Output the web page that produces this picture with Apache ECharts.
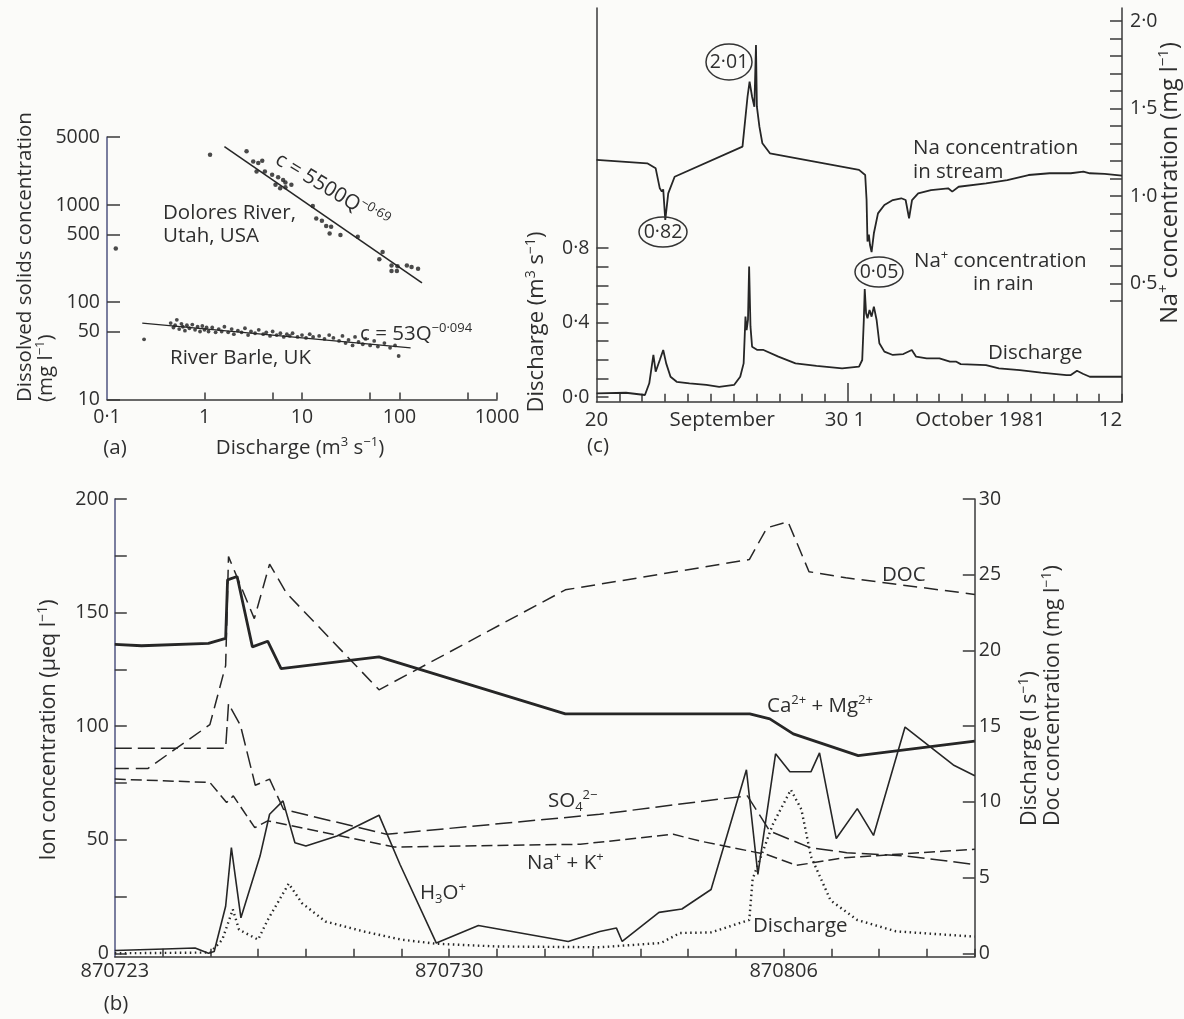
<!DOCTYPE html>
<html><head><meta charset="utf-8">
<script src="https://cdn.jsdelivr.net/npm/echarts@6/dist/echarts.min.js"></script>
<style>html,body{margin:0;padding:0;background:#fbfbf9}#c{width:1184px;height:1019px}</style>
</head><body><div id="c"></div>
<script>
// ===== Panel (a): dissolved solids vs discharge, [Q (m3/s), c (mg/l)]
const doloresPoints = [[1.14,3290],[0.123,356],[2.70,3570],[3.16,2800],[3.56,2700],[3.91,2850],[3.42,2210],[4.16,2210],[4.94,2040],[5.69,1930],[6.40,1810],[6.76,1700],[5.35,1610],[5.97,1490],[6.76,1520],[7.78,1610],[12.9,977],[14.0,728],[16.0,689],[17.7,607],[19.2,509],[19.9,597],[24.8,490],[37.3,470],[67.1,329],[62.1,276],[82.8,239],[82.8,209],[94.0,209],[95.4,234],[119,239],[133,230],[155,221]];
const barlePoints = [[0.24,41.6],[0.45,61],[0.48,55],[0.5,58],[0.52,66],[0.55,53],[0.58,60],[0.6,56],[0.63,51],[0.66,58],[0.7,54],[0.75,59],[0.8,52],[0.85,56],[0.9,50],[0.95,57],[1.0,52],[1.05,55],[1.1,50],[1.2,55],[1.3,49],[1.4,53],[1.5,50],[1.6,56],[1.75,49],[1.9,53],[2.0,47],[2.2,51],[2.4,49],[2.6,54],[2.8,46],[3.0,50],[3.3,48],[3.6,52],[4.0,47],[4.3,49],[4.7,45],[5.0,50],[5.5,46],[6.0,48],[6.5,44],[7.0,47],[7.5,45],[8.0,48],[9.0,44],[10,46],[11,43],[12,47],[13,44],[15,45],[17,42],[19,46],[21,43],[24,40],[26,45],[28,38],[30,41],[33,36],[35,44],[38,39],[42,37],[45,42],[50,36],[55,40],[60,35],[70,38],[80,34],[90,36],[98,28]];
const doloresFit = [[1.6,3980],[170,158]];
const barleFit = [[0.23,61],[130,34]];
const aXTickValues = [1,5,10,50,100,500,1000];
const aXLabelValues = [0.1,1,10,100,1000];
const aXLabelText = ['0·1','1','10','100','1000'];
const aYTickValues = [10,50,100,500,1000,5000];
const aYLabelText = ['10','50','100','500','1000','5000'];

// ===== Panel (c): days after 20 September 1981
const cNaDays = [0,2.22,2.59,2.77,2.86,2.92,3.01,3.14,3.42,6.39,6.61,6.70,6.81,6.91,6.98,7.02,7.13,7.26,7.59,11.49,11.76,11.82,11.86,11.92,11.97,12.04,12.14,12.32,12.60,12.97,13.34,13.53,13.68,13.81,14.08,14.64,15.39,15.57,15.85,17.05,17.98,18.91,19.83,20.76,21.31,21.59,22.24,23.0];
const cNaValues = [1.206,1.187,1.158,1.044,1.025,1.038,0.863,1.015,1.110,1.282,1.567,1.653,1.567,1.510,1.863,1.510,1.396,1.301,1.244,1.149,1.120,0.98,0.74,0.78,0.72,0.68,0.787,0.901,0.949,0.977,0.987,0.977,0.873,0.977,1.015,1.034,1.044,1.025,1.053,1.072,1.091,1.120,1.130,1.130,1.139,1.130,1.126,1.116];
const cQDays = [0,1.29,2.12,2.31,2.49,2.59,2.77,2.92,3.05,3.24,3.51,4.07,4.81,5.37,6.02,6.29,6.44,6.52,6.57,6.63,6.68,6.74,6.81,7.04,7.31,7.96,8.71,9.63,10.75,11.49,11.63,11.70,11.74,11.80,11.86,11.95,12.04,12.14,12.26,12.38,12.60,12.97,13.43,13.80,13.99,14.45,15.01,15.47,15.75,15.94,17.05,17.61,18.53,19.46,20.57,20.76,21.03,21.31,21.59,22.61,23.0];
const cQValues = [0.020,0.023,0.011,0.074,0.226,0.136,0.199,0.253,0.181,0.109,0.082,0.074,0.065,0.055,0.065,0.109,0.181,0.432,0.360,0.414,0.701,0.378,0.270,0.253,0.253,0.217,0.181,0.167,0.154,0.163,0.199,0.414,0.58,0.45,0.423,0.468,0.432,0.486,0.414,0.289,0.244,0.226,0.231,0.253,0.217,0.208,0.208,0.190,0.190,0.177,0.172,0.154,0.145,0.131,0.118,0.118,0.141,0.124,0.109,0.109,0.109];
const cXTicks = [1,2,3,4,5,6,7,8,9,10,11,12,13,14,15,16,17,18,19,20,21,22,23];
const cXLabelPos = [0,5.5,10.5,11.5,16.8,22.5];
const cXLabelText = ['20','September','30','1','October 1981','12'];
const cLeftTicks = [0,0.1,0.2,0.3,0.4,0.5,0.6,0.7,0.8];
const cLeftLabels = [0,0.4,0.8];
const cRightTicks = [0.4,0.5,0.6,0.7,0.8,0.9,1.0,1.1,1.2,1.3,1.4,1.5,1.6,1.7,1.8,1.9,2.0];
const cRightLabels = [0.5,1.0,1.5,2.0];

// ===== Panel (b): days after 870723
const bCaDays = [0,0.56,1.96,2.32,2.36,2.56,2.88,3.20,3.48,5.53,9.43,13.29,13.71,14.2,15.56,18];
const bCaValues = [136,135.4,136.4,138.6,164.4,165.9,134.9,137.4,125.3,130.5,105.4,105.4,103.2,96.6,87.0,93.4];
const bH3ODays = [0,1.04,1.68,1.96,2.08,2.32,2.44,2.64,3.04,3.24,3.52,3.77,4.0,4.65,5.53,5.97,6.73,7.61,9.49,10.15,10.5,10.62,11.39,11.87,12.48,13.22,13.46,13.83,14.13,14.57,14.75,15.1,15.54,15.88,16.54,17.55,18];
const bH3OValues = [1.2,1.9,2.3,0,0.8,20.7,46.5,15.6,42.8,61.2,67.1,48.7,47.2,51.6,60.8,39.1,4.5,12.2,5.2,9.6,11.1,5.2,18.0,19.5,28.1,80.8,34.7,87.8,79.9,79.9,88.2,50.5,63.7,51.9,99.6,82.9,78.2];
const bSO4Days = [0,2.32,2.38,2.63,2.94,3.24,3.53,5.69,10.15,12.67,13.24,13.71,14.55,15.32,16.57,18];
const bSO4Values = [90.3,90.3,109.9,100.3,74.0,76.7,63.4,52.4,61.2,67.9,69.3,53.8,46.5,44.3,42.8,39.1];
const bNaKDays = [0,1.99,2.34,2.48,2.93,3.2,5.85,9.74,11.69,12.25,13.64,14.27,15.28,18];
const bNaKValues = [76.7,75.2,66.4,69.3,55.3,58.3,46.8,48,52.4,49.4,43.5,38.7,42.1,45.8];
const bDOCDays = [0,0.69,1.99,2.32,2.38,2.92,3.24,3.59,5.53,9.43,13.28,13.65,14.09,14.53,15.3,18];
const bDOCValues = [12.2,12.2,15.1,19.0,26.2,22.1,25.7,23.8,17.4,24.0,26.0,28.1,28.5,25.2,24.8,23.7];
const bQDays = [0,2.0,2.25,2.47,2.6,3.0,3.2,3.64,3.92,4.41,5.21,6.0,6.73,8.0,10.15,11.43,11.83,12.48,13.28,13.35,13.77,14.15,14.37,14.57,14.98,15.54,16.35,18];
const bQValues = [0.0,0.05,0.9,2.9,1.56,0.9,2.2,4.6,3.3,2.1,1.44,0.9,0.63,0.45,0.4,0.68,1.34,1.38,2.2,4.9,8.5,10.8,9.5,6.4,3.5,2.2,1.45,1.1];
const bXTicks = [1,2,3,4,5,6,7,8,9,10,11,12,13,14,15,16,17,18];
const bXLabelPos = [0,7,14];
const bXLabelText = ['870723','870730','870806'];
const bLeftTicks = [0,25,50,75,100,125,150,175,200];
const bLeftLabels = [0,50,100,150,200];
const bRightTicks = [0,5,10,15,20,25,30];

// ===== styling
const FONT = '"Open Sans", "DejaVu Sans", sans-serif';
const TXT = '#2e2e2e';
const AXC = '#3a3a3a';
const AXB = '#4f5480';
const LINE = '#262626';
const TS = 20.5;   // annotation text size
const NS = 19.5;   // tick label size

const zip = (a, b) => a.map((v, i) => [v, b[i]]);
const lg = p => [Math.log10(p[0]), Math.log10(p[1])];
function lookup(pos, texts) {
  return v => { let bi = 0, bd = Infinity; pos.forEach((p, i) => { const d = Math.abs(p - v); if (d < bd) { bd = d; bi = i; } }); return texts[bi]; };
}
const dot = v => v.toFixed(1).replace('.', '·');
const lab = (extra) => Object.assign({fontFamily: FONT, fontSize: NS, color: TXT}, extra);
const tick = (vals, len, color) => ({show: true, inside: true, length: len, customValues: vals, lineStyle: {color: color || AXC, width: 1.5}});
const aline = (color) => ({show: true, onZero: false, lineStyle: {color: color || AXC, width: 1.5}});

function txt(x, y, text, o) {
  o = o || {};
  const size = o.size || TS;
  const ss = Math.round(size * 0.64);
  const lh = Math.round(size * 1.2);
  return {type: 'text', x: x, y: y, rotation: o.rot || 0, z: 50,
    style: {text: text, fill: TXT, font: size + 'px ' + FONT, fontSize: size, fontFamily: FONT,
      align: o.align || 'left', textAlign: o.align || 'left', verticalAlign: 'middle', textVerticalAlign: 'middle',
      rich: {
        s: {fontFamily: FONT, fontSize: ss, fill: TXT, verticalAlign: 'top', lineHeight: lh},
        b: {fontFamily: FONT, fontSize: ss, fill: TXT, verticalAlign: 'bottom', lineHeight: lh}
      }}};
}
function circ(cx, cy, rx, ry) {
  return {type: 'ellipse', shape: {cx: cx, cy: cy, rx: rx, ry: ry}, z: 49, style: {fill: null, stroke: '#333', lineWidth: 1.5}};
}
const R = Math.PI / 180;

const option = {
  backgroundColor: '#fbfbf9',
  animation: false,
  grid: [
    {left: 107, top: 137, width: 390, height: 262.5, outerBoundsMode: 'none'},
    {left: 596.5, top: 8, width: 525.5, height: 393.7, outerBoundsMode: 'none'},
    {left: 114.8, top: 499, width: 860, height: 457.7, outerBoundsMode: 'none'}
  ],
  xAxis: [
    {gridIndex: 0, type: 'value', min: -1, max: 3, axisLine: aline(), axisTick: tick(aXTickValues.map(Math.log10), 7),
      axisLabel: lab({customValues: aXLabelValues.map(Math.log10), formatter: lookup(aXLabelValues.map(Math.log10), aXLabelText), margin: 8}), splitLine: {show: false}},
    {gridIndex: 1, type: 'value', min: 0, max: 23, axisLine: aline(), axisTick: tick(cXTicks, 8),
      axisLabel: lab({fontSize: 20.5, customValues: cXLabelPos, formatter: lookup(cXLabelPos, cXLabelText), margin: 8}), splitLine: {show: false}},
    {gridIndex: 1, type: 'value', min: 0, max: 23, position: 'bottom', axisLine: {show: false}, axisTick: tick([11], 14), axisLabel: {show: false}, splitLine: {show: false}},
    {gridIndex: 2, type: 'value', min: 0, max: 18, axisLine: aline(), axisTick: tick(bXTicks, 8),
      axisLabel: lab({fontSize: 20, customValues: bXLabelPos, formatter: lookup(bXLabelPos, bXLabelText), margin: 5}), splitLine: {show: false}}
  ],
  yAxis: [
    {gridIndex: 0, type: 'value', min: 1, max: Math.log10(5000), axisLine: aline(AXB), axisTick: tick(aYTickValues.map(Math.log10), 13),
      axisLabel: lab({customValues: aYTickValues.map(Math.log10), formatter: lookup(aYTickValues.map(Math.log10), aYLabelText), margin: 7}), splitLine: {show: false}},
    {gridIndex: 1, type: 'value', position: 'left', min: -0.025, max: 2.09, axisLine: aline(), axisTick: tick(cLeftTicks, 12),
      axisLabel: lab({customValues: cLeftLabels, formatter: dot, margin: 7}), splitLine: {show: false}},
    {gridIndex: 1, type: 'value', position: 'right', min: -0.175, max: 2.074, axisLine: aline(), axisTick: tick(cRightTicks, 12),
      axisLabel: lab({customValues: cRightLabels, formatter: dot, margin: 8}), splitLine: {show: false}},
    {gridIndex: 2, type: 'value', position: 'left', min: -1.5, max: 200, axisLine: aline(AXB), axisTick: tick(bLeftTicks, 12),
      axisLabel: lab({customValues: bLeftLabels, formatter: v => String(Math.round(v)), margin: 6}), splitLine: {show: false}},
    {gridIndex: 2, type: 'value', position: 'right', min: -0.225, max: 30, axisLine: aline(), axisTick: tick(bRightTicks, 12),
      axisLabel: lab({customValues: bRightTicks, formatter: v => String(Math.round(v)), margin: 4}), splitLine: {show: false}}
  ],
  series: [
    // (a)
    {type: 'line', xAxisIndex: 0, yAxisIndex: 0, data: doloresFit.map(lg), symbol: 'none', lineStyle: {color: LINE, width: 1.6}},
    {type: 'line', xAxisIndex: 0, yAxisIndex: 0, data: barleFit.map(lg), symbol: 'none', lineStyle: {color: LINE, width: 1.3}},
    {type: 'scatter', xAxisIndex: 0, yAxisIndex: 0, data: doloresPoints.map(lg), symbolSize: 4.5, itemStyle: {color: '#1e1e1e'}},
    {type: 'scatter', xAxisIndex: 0, yAxisIndex: 0, data: barlePoints.map(lg), symbolSize: 3.8, itemStyle: {color: '#1e1e1e'}},
    // (c)
    {type: 'line', xAxisIndex: 1, yAxisIndex: 2, data: zip(cNaDays, cNaValues), symbol: 'none', lineStyle: {color: LINE, width: 1.8}},
    {type: 'line', xAxisIndex: 1, yAxisIndex: 1, data: zip(cQDays, cQValues), symbol: 'none', lineStyle: {color: LINE, width: 1.8}},
    // (b)
    {type: 'line', xAxisIndex: 3, yAxisIndex: 3, data: zip(bCaDays, bCaValues), symbol: 'none', lineStyle: {color: LINE, width: 2.8}},
    {type: 'line', xAxisIndex: 3, yAxisIndex: 3, data: zip(bH3ODays, bH3OValues), symbol: 'none', lineStyle: {color: LINE, width: 1.6}},
    {type: 'line', xAxisIndex: 3, yAxisIndex: 3, data: zip(bSO4Days, bSO4Values), symbol: 'none', lineStyle: {color: LINE, width: 1.5, type: [17, 6]}},
    {type: 'line', xAxisIndex: 3, yAxisIndex: 3, data: zip(bNaKDays, bNaKValues), symbol: 'none', lineStyle: {color: LINE, width: 1.5, type: [11, 5]}},
    {type: 'line', xAxisIndex: 3, yAxisIndex: 4, data: zip(bDOCDays, bDOCValues), symbol: 'none', lineStyle: {color: LINE, width: 1.5, type: [14, 7]}},
    {type: 'line', xAxisIndex: 3, yAxisIndex: 4, data: zip(bQDays, bQValues), symbol: 'none', lineStyle: {color: LINE, width: 2.4, type: [1.5, 3.5]}}
  ],
  graphic: [
    // (a)
    txt(25, 402, 'Dissolved solids concentration', {rot: 90 * R}),
    txt(46, 402, '(mg l{s|−1})', {rot: 90 * R}),
    txt(300, 448, 'Discharge (m{s|3} s{s|−1})', {align: 'center'}),
    txt(115, 448, '(a)', {align: 'center'}),
    txt(163, 213, 'Dolores River,'),
    txt(163, 236, 'Utah, USA'),
    txt(170, 358, 'River Barle, UK'),
    txt(277, 158, 'c = 5500Q{s|−0·69}', {rot: -31 * R}),
    txt(360, 334, 'c = 53Q{s|−0·094}'),
    // (c)
    txt(537, 322, 'Discharge (m{s|3} s{s|−1})', {rot: 90 * R, align: 'center', size: 22}),
    txt(1170, 183, 'Na{s|+} concentration (mg l{s|−1})', {rot: 90 * R, align: 'center', size: 23.5}),
    txt(913, 148, 'Na concentration'),
    txt(913, 172, 'in stream'),
    txt(914, 261, 'Na{s|+} concentration'),
    txt(973, 284, 'in rain'),
    txt(988, 353, 'Discharge'),
    txt(598, 446, '(c)', {align: 'center'}),
    circ(729, 62, 23, 18), txt(729, 62, '2·01', {align: 'center', size: 19.5}),
    circ(663, 232, 24, 15), txt(663, 232, '0·82', {align: 'center', size: 19.5}),
    circ(879, 272, 24, 15), txt(879, 272, '0·05', {align: 'center', size: 19.5}),
    // (b)
    txt(49, 730, 'Ion concentration (μeq l{s|−1})', {rot: 90 * R, align: 'center', size: 21.5}),
    txt(1030, 826, 'Discharge (l s{s|−1})', {rot: 90 * R, size: 21.5}),
    txt(1053, 826, 'Doc concentration (mg l{s|−1})', {rot: 90 * R, size: 21.5}),
    txt(882, 575, 'DOC'),
    txt(767, 706, 'Ca{s|2+} + Mg{s|2+}'),
    txt(548, 801, 'SO{b|4}{s|2−}'),
    txt(527, 863, 'Na{s|+} + K{s|+}'),
    txt(420, 893, 'H{b|3}O{s|+}'),
    txt(753, 926, 'Discharge'),
    txt(116, 1004, '(b)', {align: 'center'})
  ]
};
const chart = echarts.init(document.getElementById('c'), null, {renderer: 'canvas'});
chart.setOption(option);
</script>
</body></html>
